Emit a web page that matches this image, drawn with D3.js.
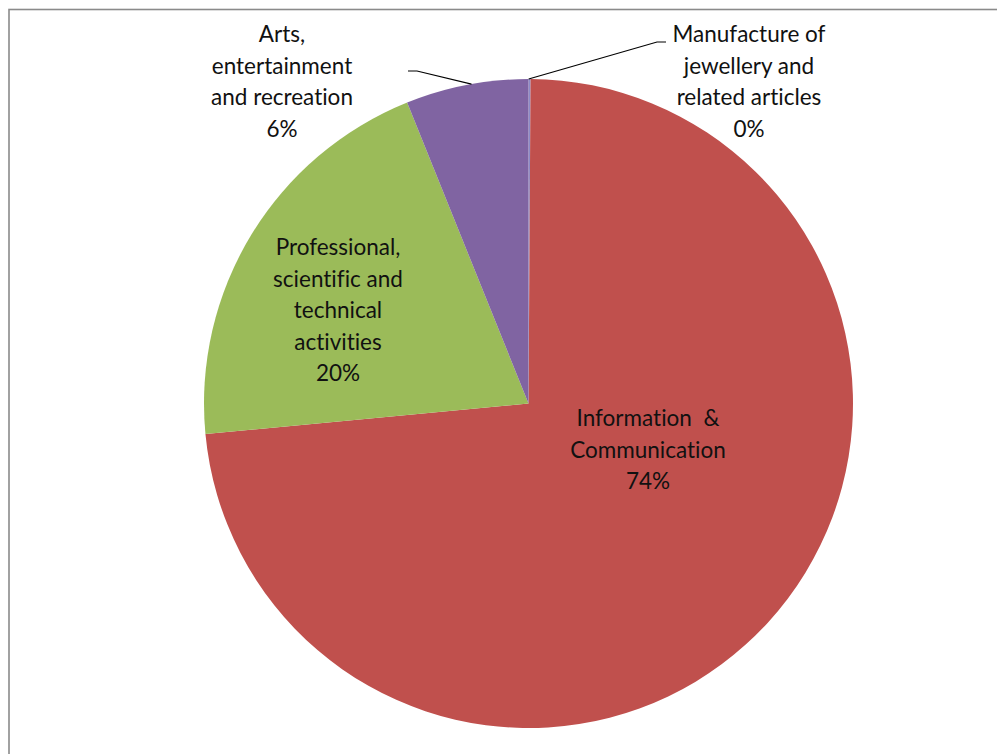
<!DOCTYPE html>
<html><head><meta charset="utf-8">
<script src="https://cdn.jsdelivr.net/npm/d3@7"></script>
<style>body{margin:0;background:#fff}svg{display:block}text{font-variant-ligatures:none;font-feature-settings:"liga" 0}</style>
</head><body>
<svg id="c" width="997" height="754"></svg>
<script>
const categories = ["Manufacture of jewellery and related articles","Information & Communication","Professional, scientific and technical activities","Arts, entertainment and recreation"];
const values = [0.1, 73.4, 20.4, 6.1];
const percentLabels = ["0%","74%","20%","6%"];
const labelLines = [
  ["Manufacture of","jewellery and","related articles","0%"],
  ["Information \u00a0&","Communication","74%"],
  ["Professional,","scientific and","technical","activities","20%"],
  ["Arts,","entertainment","and recreation","6%"]
];
const colors = ["#8C8CC8","#C0504D","#9BBB59","#8064A2"];

const svg = d3.select("#c");
svg.append("rect").attr("x",9).attr("y",9.5).attr("width",1100).attr("height",1000)
  .attr("fill","#fff").attr("stroke","#8a8a8a").attr("stroke-width",1.6);

const cx = 528.5, cy = 403.5, r = 324.5;
const pie = d3.pie().sort(null).value(d=>d)(values);
const arc = d3.arc().innerRadius(0).outerRadius(r);
const g = svg.append("g").attr("transform",`translate(${cx},${cy})`);
g.selectAll("path").data(pie).join("path").attr("d",arc)
  .attr("fill",(d,i)=>colors[i]);

// label placement (centres of first label line)
const labelPos = [[749,34],[648,418],[338,247],[282,34]];
const lh = 31.6;
labelLines.forEach((lines,i)=>{
  const t = svg.append("text").attr("text-anchor","middle")
    .attr("font-family","Lato, 'Open Sans', sans-serif").attr("font-size",22.5)
    .attr("fill","#111");
  lines.forEach((s,j)=>{
    t.append("tspan").attr("x",labelPos[i][0]).attr("y",labelPos[i][1]+j*lh+8).text(s);
  });
});

// leader lines
const p0 = [cx + r*Math.sin(pie[0].startAngle+0.0005), cy - r*Math.cos(pie[0].startAngle+0.0005)];
svg.append("polyline").attr("points",[[p0[0],p0[1]],[657,42],[666,42]].map(p=>p.join(",")).join(" "))
  .attr("fill","none").attr("stroke","#000").attr("stroke-width",1.2);
const a3 = (pie[3].startAngle+pie[3].endAngle)/2 + 0.015;
const p3 = [cx + r*Math.sin(a3), cy - r*Math.cos(a3)];
svg.append("polyline").attr("points",[[p3[0],p3[1]],[417,71],[408,71]].map(p=>p.join(",")).join(" "))
  .attr("fill","none").attr("stroke","#000").attr("stroke-width",1.2);
</script>
</body></html>
